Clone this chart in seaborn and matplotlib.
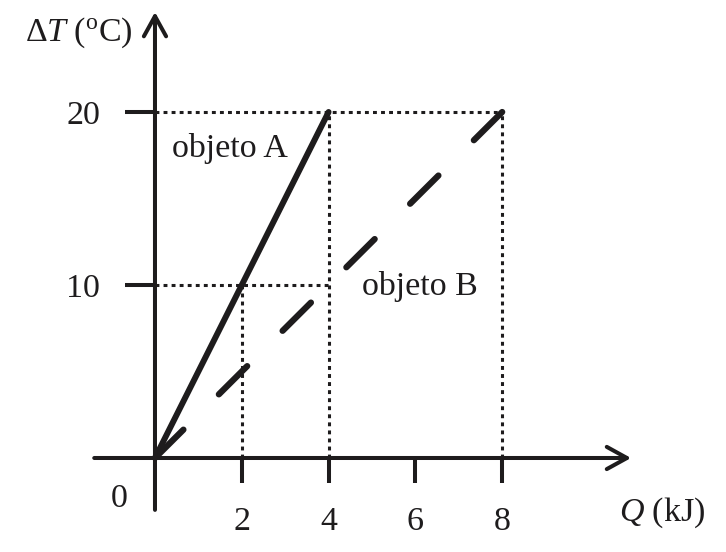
import matplotlib
matplotlib.use("Agg")
import matplotlib.pyplot as plt
import seaborn as sns

# data
q_a = [0, 2, 4]          # kJ, objeto A
dt_a = [0, 10, 20]       # degC
q_b = [0, 4, 8]          # kJ, objeto B
dt_b = [0, 10, 20]
x_ticks = [2, 4, 6, 8]
y_ticks = [10, 20]

ink = "#1e1c1d"

sns.set_theme(style="white")
plt.rcParams["font.family"] = ["Liberation Serif", "DejaVu Serif"]
plt.rcParams["mathtext.fontset"] = "custom"
plt.rcParams["mathtext.rm"] = "Liberation Serif"
plt.rcParams["mathtext.it"] = "Liberation Serif:italic"
plt.rcParams["lines.scale_dashes"] = False

fig = plt.figure(figsize=(7.26, 5.52), dpi=100)
ax = fig.add_axes([0, 0, 1, 1])
ax.set_xlim(-3.571, 13.157)
ax.set_ylim(-5.434, 26.474)
for s in ax.spines.values():
    s.set_visible(False)
ax.spines["left"].set_position(("data", 0))
ax.spines["bottom"].set_position(("data", 0))

# dotted guides from the key points
pts = [(x, y) for x, y in zip(q_a[1:], dt_a[1:])] + [(x, y) for x, y in zip(q_b[1:], dt_b[1:])]
dot = (0, (2.8, 3.0))
for lvl in sorted(set(y for _, y in pts)):
    xmax = max(x for x, y in pts if y == lvl)
    ax.plot([0, xmax], [lvl, lvl], color=ink, lw=2.2, ls=dot, dash_capstyle="butt", zorder=1)
for xv in sorted(set(x for x, _ in pts)):
    ymax = max(y for x, y in pts if x == xv)
    ax.plot([xv, xv], [0, ymax], color=ink, lw=2.2, ls=dot, dash_capstyle="butt", zorder=1)

# axes with open arrowheads
arrow = dict(arrowstyle="->,head_length=1.45,head_width=0.8", lw=2.9, color=ink,
             shrinkA=0, shrinkB=0, mutation_scale=10)
ax.annotate("", xy=(10.97, 0), xytext=(-1.40, 0), arrowprops=arrow, zorder=3)
ax.annotate("", xy=(0, 25.78), xytext=(0, -3.0), arrowprops=arrow, zorder=3)

# lines
sns.lineplot(x=q_a, y=dt_a, sort=False, color=ink, lw=4.3,
             solid_capstyle="round", ax=ax, zorder=4)
sns.lineplot(x=q_b[::-1], y=dt_b[::-1], sort=False, color=ink, lw=4.5,
             ls=(0, (28.8, 36.0)), dash_capstyle="round", ax=ax, zorder=4)

ax.set_xticks(x_ticks)
ax.set_xticklabels([str(v) for v in x_ticks])
ax.set_yticks(y_ticks)
ax.set_yticklabels([str(v) for v in y_ticks])
ax.tick_params(axis="x", direction="out", length=18, width=2.9, color=ink,
               pad=17, labelsize=24.5, labelcolor=ink, bottom=True)
ax.tick_params(axis="y", direction="out", length=21.6, width=2.9, color=ink,
               pad=18, labelsize=24.5, labelcolor=ink, left=True)
ax.set_xlabel("")
ax.set_ylabel("")
ax.grid(False)

ax.annotate("0", xy=(0, 0), xytext=(-26, -29), textcoords="offset points",
            ha="center", va="center", fontsize=24.5, color=ink)

ax.text(1.728, 17.9, "objeto A", ha="center", va="center", fontsize=24.5, color=ink)
ax.text(6.106, 9.94, "objeto B", ha="center", va="center", fontsize=24.5, color=ink)

ax.text(0.183, 0.940, r"$\Delta T\ (^{\mathrm{o}}\mathrm{C})$", transform=ax.transAxes,
        ha="right", va="center", fontsize=24.5, color=ink)
ax.text(0.912, 0.0707, r"$Q\ (\mathrm{kJ})$", transform=ax.transAxes,
        ha="center", va="center", fontsize=24.5, color=ink)

fig.savefig("out.png", dpi=100, facecolor="white")
